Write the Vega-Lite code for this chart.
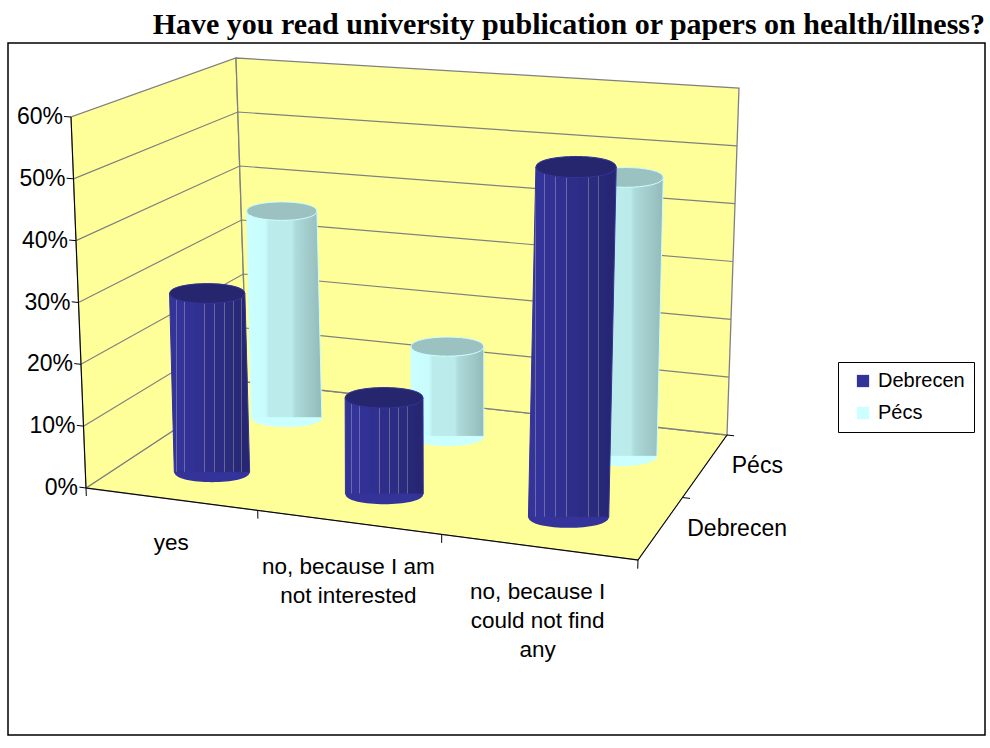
{
"$schema":"https://vega.github.io/schema/vega-lite/v6.json",
"width":977,"height":692,"autosize":"none",
"padding":{"left":8,"top":43,"right":5,"bottom":13},
"background":"white",
"title":{"text":"Have you read university publication or papers on health/illness?","anchor":"end","frame":"group","font":"Liberation Serif","fontSize":30,"fontWeight":"bold","color":"black","offset":3},
"config":{"view":{"stroke":"black","strokeWidth":1.5}},
"data":{"values":[
{"kind":"bar","category":"yes","series":"Debrecen","value":29.5},
{"kind":"bar","category":"yes","series":"Pécs","value":36.5},
{"kind":"bar","category":"no, because I am not interested","series":"Debrecen","value":15.5},
{"kind":"bar","category":"no, because I am not interested","series":"Pécs","value":15.5},
{"kind":"bar","category":"no, because I could not find any","series":"Debrecen","value":55},
{"kind":"bar","category":"no, because I could not find any","series":"Pécs","value":47},

{"kind":"plane","name":"floor","seq":0,"u":0,"depth":0,"level":0},
{"kind":"plane","name":"floor","seq":1,"u":3,"depth":0,"level":0},
{"kind":"plane","name":"floor","seq":2,"u":3,"depth":1,"level":0},
{"kind":"plane","name":"floor","seq":3,"u":0,"depth":1,"level":0},
{"kind":"plane","name":"floor","seq":4,"u":0,"depth":0,"level":0},
{"kind":"plane","name":"left","seq":0,"u":0,"depth":0,"level":0},
{"kind":"plane","name":"left","seq":1,"u":0,"depth":1,"level":0},
{"kind":"plane","name":"left","seq":2,"u":0,"depth":1,"level":60},
{"kind":"plane","name":"left","seq":3,"u":0,"depth":0,"level":60},
{"kind":"plane","name":"left","seq":4,"u":0,"depth":0,"level":0},
{"kind":"plane","name":"back","seq":0,"u":0,"depth":1,"level":0},
{"kind":"plane","name":"back","seq":1,"u":3,"depth":1,"level":0},
{"kind":"plane","name":"back","seq":2,"u":3,"depth":1,"level":60},
{"kind":"plane","name":"back","seq":3,"u":0,"depth":1,"level":60},
{"kind":"plane","name":"back","seq":4,"u":0,"depth":1,"level":0},

{"kind":"grid","name":"g10","seq":0,"u":0,"depth":0,"level":10},
{"kind":"grid","name":"g10","seq":1,"u":0,"depth":1,"level":10},
{"kind":"grid","name":"g10","seq":2,"u":3,"depth":1,"level":10},
{"kind":"grid","name":"g20","seq":0,"u":0,"depth":0,"level":20},
{"kind":"grid","name":"g20","seq":1,"u":0,"depth":1,"level":20},
{"kind":"grid","name":"g20","seq":2,"u":3,"depth":1,"level":20},
{"kind":"grid","name":"g30","seq":0,"u":0,"depth":0,"level":30},
{"kind":"grid","name":"g30","seq":1,"u":0,"depth":1,"level":30},
{"kind":"grid","name":"g30","seq":2,"u":3,"depth":1,"level":30},
{"kind":"grid","name":"g40","seq":0,"u":0,"depth":0,"level":40},
{"kind":"grid","name":"g40","seq":1,"u":0,"depth":1,"level":40},
{"kind":"grid","name":"g40","seq":2,"u":3,"depth":1,"level":40},
{"kind":"grid","name":"g50","seq":0,"u":0,"depth":0,"level":50},
{"kind":"grid","name":"g50","seq":1,"u":0,"depth":1,"level":50},
{"kind":"grid","name":"g50","seq":2,"u":3,"depth":1,"level":50},

{"kind":"axis","name":"yaxis","seq":0,"u":0,"depth":0,"level":0},
{"kind":"axis","name":"yaxis","seq":1,"u":0,"depth":0,"level":60},
{"kind":"axis","name":"xaxis","seq":0,"u":0,"depth":0,"level":0},
{"kind":"axis","name":"xaxis","seq":1,"u":3,"depth":0,"level":0},
{"kind":"axis","name":"zaxis","seq":0,"u":3,"depth":0,"level":0},
{"kind":"axis","name":"zaxis","seq":1,"u":3,"depth":1,"level":0},

{"kind":"axis","name":"ty0","seq":0,"u":0,"depth":0,"level":0},
{"kind":"axis","name":"ty0","seq":1,"u":-0.04,"depth":0,"level":0},
{"kind":"axis","name":"ty10","seq":0,"u":0,"depth":0,"level":10},
{"kind":"axis","name":"ty10","seq":1,"u":-0.04,"depth":0,"level":10},
{"kind":"axis","name":"ty20","seq":0,"u":0,"depth":0,"level":20},
{"kind":"axis","name":"ty20","seq":1,"u":-0.04,"depth":0,"level":20},
{"kind":"axis","name":"ty30","seq":0,"u":0,"depth":0,"level":30},
{"kind":"axis","name":"ty30","seq":1,"u":-0.04,"depth":0,"level":30},
{"kind":"axis","name":"ty40","seq":0,"u":0,"depth":0,"level":40},
{"kind":"axis","name":"ty40","seq":1,"u":-0.04,"depth":0,"level":40},
{"kind":"axis","name":"ty50","seq":0,"u":0,"depth":0,"level":50},
{"kind":"axis","name":"ty50","seq":1,"u":-0.04,"depth":0,"level":50},
{"kind":"axis","name":"ty60","seq":0,"u":0,"depth":0,"level":60},
{"kind":"axis","name":"ty60","seq":1,"u":-0.04,"depth":0,"level":60},
{"kind":"axis","name":"tx0","seq":0,"u":0,"depth":0,"level":0},
{"kind":"axis","name":"tx0","seq":1,"u":0,"depth":0,"level":-1.3},
{"kind":"axis","name":"tx1","seq":0,"u":1,"depth":0,"level":0},
{"kind":"axis","name":"tx1","seq":1,"u":1,"depth":0,"level":-1.3},
{"kind":"axis","name":"tx2","seq":0,"u":2,"depth":0,"level":0},
{"kind":"axis","name":"tx2","seq":1,"u":2,"depth":0,"level":-1.3},
{"kind":"axis","name":"tx3","seq":0,"u":3,"depth":0,"level":0},
{"kind":"axis","name":"tx3","seq":1,"u":3,"depth":0,"level":-1.3},
{"kind":"axis","name":"tz1","seq":0,"u":3,"depth":0.5,"level":0},
{"kind":"axis","name":"tz1","seq":1,"u":3.04,"depth":0.5,"level":0},
{"kind":"axis","name":"tz2","seq":0,"u":3,"depth":1,"level":0},
{"kind":"axis","name":"tz2","seq":1,"u":3.04,"depth":1,"level":0},

{"kind":"ylabel","label":"0%","u":0,"depth":0,"level":0},
{"kind":"ylabel","label":"10%","u":0,"depth":0,"level":10},
{"kind":"ylabel","label":"20%","u":0,"depth":0,"level":20},
{"kind":"ylabel","label":"30%","u":0,"depth":0,"level":30},
{"kind":"ylabel","label":"40%","u":0,"depth":0,"level":40},
{"kind":"ylabel","label":"50%","u":0,"depth":0,"level":50},
{"kind":"ylabel","label":"60%","u":0,"depth":0,"level":60},
{"kind":"xlabel","label":"yes","u":0.5,"depth":0,"level":-5.2},
{"kind":"xlabel","label":"no, because I am\nnot interested","u":1.5,"depth":0,"level":-5.2},
{"kind":"xlabel","label":"no, because I\ncould not find\nany","u":2.5,"depth":0,"level":-5.2},
{"kind":"zlabel","label":"Debrecen","u":3,"depth":0.25,"level":0},
{"kind":"zlabel","label":"Pécs","u":3,"depth":0.75,"level":0}
]},
"transform":[
{"calculate":"datum.kind==='bar'?indexof(['yes','no, because I am not interested','no, because I could not find any'],datum.category)+0.525:datum.u","as":"uPos"},
{"calculate":"datum.kind==='bar'?(datum.series==='Debrecen'?0.25:0.75):datum.depth","as":"dPos"},
{"calculate":"datum.kind==='bar'?datum.value:datum.level","as":"lPos"},
{"calculate":"(datum.uPos/3)*(0.9+0.1*datum.uPos/3)","as":"s"},
{"calculate":"(86+552*datum.s)*(1-datum.dPos)+(247+480*datum.s)*datum.dPos","as":"bx"},
{"calculate":"(488+72*datum.s)*(1-datum.dPos)+(382+53*datum.s)*datum.dPos","as":"by"},
{"calculate":"(71+580*datum.s)*(1-datum.dPos)+(236+503*datum.s)*datum.dPos","as":"tx"},
{"calculate":"(117+43*datum.s)*(1-datum.dPos)+(58+30*datum.s)*datum.dPos","as":"ty"},
{"calculate":"datum.bx+(datum.tx-datum.bx)*datum.lPos/60","as":"px"},
{"calculate":"datum.by+(datum.ty-datum.by)*datum.lPos/60","as":"py"},
{"calculate":"(datum.dPos<0.5?74:69)+2.5*datum.uPos","as":"w"},
{"calculate":"datum.w*datum.w","as":"capSize"},
{"calculate":"[0,1,2,3,4]","as":"corner"},
{"flatten":["corner"]},
{"calculate":"(datum.corner<2||datum.corner==4?datum.bx:datum.px)+(datum.corner==1||datum.corner==2?0.5:-0.5)*datum.w","as":"polyX"},
{"calculate":"datum.corner<2||datum.corner==4?datum.by:datum.py","as":"polyY"}
],
"encoding":{
"x":{"field":"px","type":"quantitative","scale":{"domain":[8,985],"nice":false,"zero":false},"axis":null},
"y":{"field":"py","type":"quantitative","scale":{"domain":[735,43],"nice":false,"zero":false},"axis":null}
},
"layer":[
{"transform":[{"filter":"datum.kind==='plane'&&datum.corner==0"}],
 "mark":{"type":"line","fill":"#FFFF99","stroke":"#808080","strokeWidth":1.3},
 "encoding":{"detail":{"field":"name"},"order":{"field":"seq","type":"quantitative"}}},
{"transform":[{"filter":"datum.kind==='grid'&&datum.corner==0"}],
 "mark":{"type":"line","stroke":"#808080","strokeWidth":1.2},
 "encoding":{"detail":{"field":"name"},"order":{"field":"seq","type":"quantitative"}}},
{"transform":[{"filter":"datum.kind==='axis'&&datum.corner==0"}],
 "mark":{"type":"line","stroke":"black","strokeWidth":1},
 "encoding":{"detail":{"field":"name"},"order":{"field":"seq","type":"quantitative"}}},
{"transform":[{"filter":"datum.kind==='bar'&&datum.corner==0"}],
 "mark":{"type":"point","filled":true,"opacity":1,"shape":"M-1,0 C-1,-0.35 1,-0.35 1,0 C1,0.35 -1,0.35 -1,0 Z"},
 "encoding":{
  "x":{"field":"bx","type":"quantitative"},
  "y":{"field":"by","type":"quantitative"},
  "size":{"field":"capSize","type":"quantitative","scale":null},
  "color":{"field":"series","type":"nominal","sort":["Debrecen","Pécs"],
   "scale":{"domain":["Debrecen","Pécs"],"range":["#333399","#CCFFFF"]},
   "legend":{"title":null,"orient":"none","legendX":830,"legendY":319,"symbolType":"square","symbolSize":150,"symbolOpacity":1,"symbolOffset":6,"labelFont":"Liberation Sans","labelFontSize":20,"labelColor":"black","strokeColor":"black","fillColor":"white","padding":9,"rowPadding":12,"labelOffset":5}}
 }},
{"transform":[{"filter":"datum.kind==='bar'&&datum.series==='Pécs'"}],
 "mark":{"type":"line","stroke":"#CCFFFF","strokeWidth":1,
  "fill":{"gradient":"linear","x1":0,"y1":0,"x2":1,"y2":0,"stops":[
   {"offset":0,"color":"#CCFFFF"},{"offset":0.25,"color":"#C8FBFB"},{"offset":0.3,"color":"#BBEBEB"},{"offset":0.6,"color":"#BBEBEB"},{"offset":0.65,"color":"#ADDADA"},{"offset":0.85,"color":"#9FC8C8"},{"offset":1,"color":"#92BABA"}]}},
 "encoding":{"x":{"field":"polyX","type":"quantitative"},"y":{"field":"polyY","type":"quantitative"},"detail":{"field":"category"},"order":{"field":"corner","type":"quantitative"}}},
{"transform":[{"filter":"datum.kind==='bar'&&datum.series==='Pécs'&&datum.corner==0"}],
 "mark":{"type":"point","filled":true,"opacity":1,"fill":"#9BC1C1","stroke":"#CCFFFF","strokeWidth":1,"shape":"M-1,0 C-1,-0.35 1,-0.35 1,0 C1,0.35 -1,0.35 -1,0 Z"},
 "encoding":{"size":{"field":"capSize","type":"quantitative","scale":null}}},
{"transform":[{"filter":"datum.kind==='bar'&&datum.series==='Debrecen'"}],
 "mark":{"type":"line","stroke":"#333399","strokeWidth":1,
  "fill":{"gradient":"linear","x1":0,"y1":0,"x2":1,"y2":0,"stops":[
   {"offset":0,"color":"#333399"},
   {"offset":0.08,"color":"#333399"},{"offset":0.08,"color":"#6A6AA6"},{"offset":0.09,"color":"#6A6AA6"},{"offset":0.09,"color":"#333399"},
   {"offset":0.18,"color":"#333399"},{"offset":0.18,"color":"#6A6AA6"},{"offset":0.19,"color":"#6A6AA6"},{"offset":0.19,"color":"#323296"},
   {"offset":0.3,"color":"#323296"},{"offset":0.3,"color":"#6A6AA6"},{"offset":0.31,"color":"#6A6AA6"},{"offset":0.31,"color":"#303090"},
   {"offset":0.43,"color":"#303090"},{"offset":0.43,"color":"#6A6AA0"},{"offset":0.44,"color":"#6A6AA0"},{"offset":0.44,"color":"#2E2E8A"},
   {"offset":0.56,"color":"#2E2E8A"},{"offset":0.56,"color":"#666698"},{"offset":0.57,"color":"#666698"},{"offset":0.57,"color":"#2C2C84"},
   {"offset":0.68,"color":"#2C2C84"},{"offset":0.68,"color":"#666690"},{"offset":0.69,"color":"#666690"},{"offset":0.69,"color":"#2A2A7E"},
   {"offset":0.79,"color":"#2A2A7E"},{"offset":0.79,"color":"#606088"},{"offset":0.8,"color":"#606088"},{"offset":0.8,"color":"#282878"},
   {"offset":0.89,"color":"#282878"},{"offset":0.89,"color":"#606088"},{"offset":0.9,"color":"#606088"},{"offset":0.9,"color":"#262672"},
   {"offset":1,"color":"#262672"}]}},
 "encoding":{"x":{"field":"polyX","type":"quantitative"},"y":{"field":"polyY","type":"quantitative"},"detail":{"field":"category"},"order":{"field":"corner","type":"quantitative"}}},
{"transform":[{"filter":"datum.kind==='bar'&&datum.series==='Debrecen'&&datum.corner==0"}],
 "mark":{"type":"point","filled":true,"opacity":1,"fill":"#26266E","stroke":"#333399","strokeWidth":1,"shape":"M-1,0 C-1,-0.35 1,-0.35 1,0 C1,0.35 -1,0.35 -1,0 Z"},
 "encoding":{"size":{"field":"capSize","type":"quantitative","scale":null}}},
{"transform":[{"filter":"datum.kind==='ylabel'&&datum.corner==0"}],
 "mark":{"type":"text","align":"right","baseline":"middle","dx":-8,"font":"Liberation Sans","fontSize":23,"color":"black"},
 "encoding":{"text":{"field":"label"}}},
{"transform":[{"filter":"datum.kind==='xlabel'&&datum.corner==0"}],
 "mark":{"type":"text","align":"center","baseline":"top","lineBreak":"\n","lineHeight":29,"font":"Liberation Sans","fontSize":22.5,"color":"black"},
 "encoding":{"text":{"field":"label"}}},
{"transform":[{"filter":"datum.kind==='zlabel'&&datum.corner==0"}],
 "mark":{"type":"text","align":"left","baseline":"middle","dx":27,"font":"Liberation Sans","fontSize":23,"color":"black"},
 "encoding":{"text":{"field":"label"}}}
]
}
